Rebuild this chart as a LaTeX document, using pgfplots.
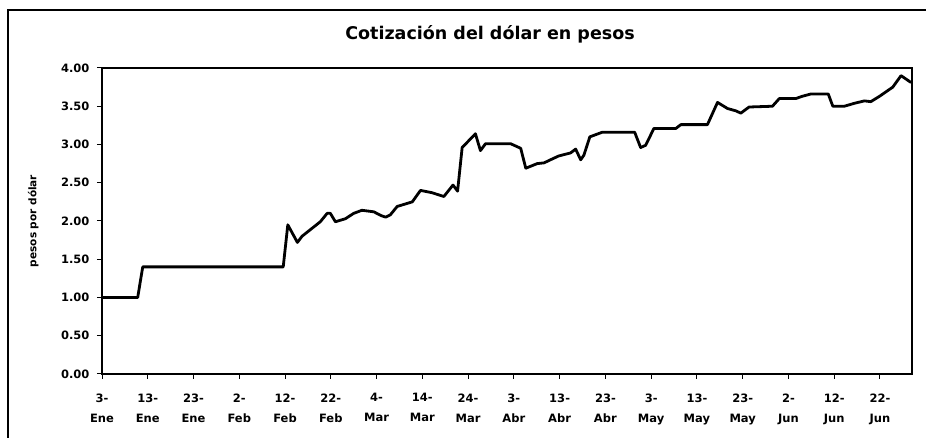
\documentclass[border=0pt]{standalone}
\usepackage{pgfplots}
\pgfplotsset{compat=1.18}
\usepackage{fontspec}
\setmainfont{DejaVu Sans}
\pgfplotstableread{
d v
0 1.00
7.8 1.00
8.9 1.40
39.6 1.40
40.6 1.95
42.7 1.72
43.7 1.80
47.7 1.99
49.2 2.10
49.9 2.10
51.0 1.99
53.2 2.03
55.0 2.10
56.8 2.14
59.4 2.12
61.0 2.07
62.0 2.05
63.0 2.08
64.5 2.19
67.8 2.25
69.6 2.40
72.1 2.37
74.7 2.32
76.7 2.47
77.7 2.39
78.7 2.96
81.6 3.14
82.7 2.92
83.8 3.01
89.3 3.01
91.5 2.95
92.6 2.69
95.1 2.75
96.6 2.76
98.0 2.80
99.8 2.85
102.4 2.89
103.5 2.94
104.6 2.80
105.3 2.86
106.6 3.10
109.3 3.16
116.4 3.16
117.7 2.96
118.8 2.99
120.6 3.21
125.4 3.21
126.5 3.26
132.3 3.26
134.5 3.55
136.7 3.47
138.5 3.44
139.6 3.41
141.4 3.49
146.5 3.50
148.0 3.60
151.6 3.60
153.0 3.63
154.9 3.66
158.7 3.66
159.7 3.50
162.2 3.50
164.5 3.54
166.6 3.57
168.0 3.56
169.9 3.63
172.8 3.75
174.6 3.90
176.8 3.81
}\datatable
\begin{document}
\begin{tikzpicture}[x=1pt,y=1pt]
\path[use as bounding box] (0,0) rectangle (926,438);
\draw[line width=2.6pt,line cap=rect] (8,0) -- (8,428) -- (930,428);
\node[font=\bfseries\fontsize{17.5}{20}\selectfont,anchor=center] at (490,404) {Cotización del dólar en pesos};
\begin{axis}[
  at={(102pt,64pt)}, anchor=south west,
  scale only axis, width=810pt, height=306pt,
  xmin=0, xmax=177, ymin=0, ymax=4,
  axis line style={line width=1.3pt},
  xtick={0,10,...,170},
  xticklabels={3-\\Ene,13-\\Ene,23-\\Ene,2-\\Feb,12-\\Feb,22-\\Feb,4-\\Mar,14-\\Mar,24-\\Mar,3-\\Abr,13-\\Abr,23-\\Abr,3-\\May,13-\\May,23-\\May,2-\\Jun,12-\\Jun,22-\\Jun},
  ytick={0,0.5,...,4},
  /pgf/number format/fixed,
  /pgf/number format/fixed zerofill,
  /pgf/number format/precision=2,
  /pgf/number format/assume math mode=true,
  tick pos=left,
  tick align=outside,
  major tick length=5pt,
  tick style={line width=1pt,black},
  xticklabel style={font=\bfseries\fontsize{11.5}{20}\selectfont,align=center,yshift=-11pt},
  yticklabel style={font=\bfseries\fontsize{11.5}{14}\selectfont,xshift=-4pt},
  ylabel={pesos por dólar},
  every axis y label/.style={at={(axis description cs:-0.085,0.5)},rotate=90,anchor=center,font=\bfseries\fontsize{10.5}{12}\selectfont},
  clip=false,
]
\addplot[black,line width=2.8pt,line join=round] table[x=d,y=v] {\datatable};
\end{axis}
\end{tikzpicture}
\end{document}
